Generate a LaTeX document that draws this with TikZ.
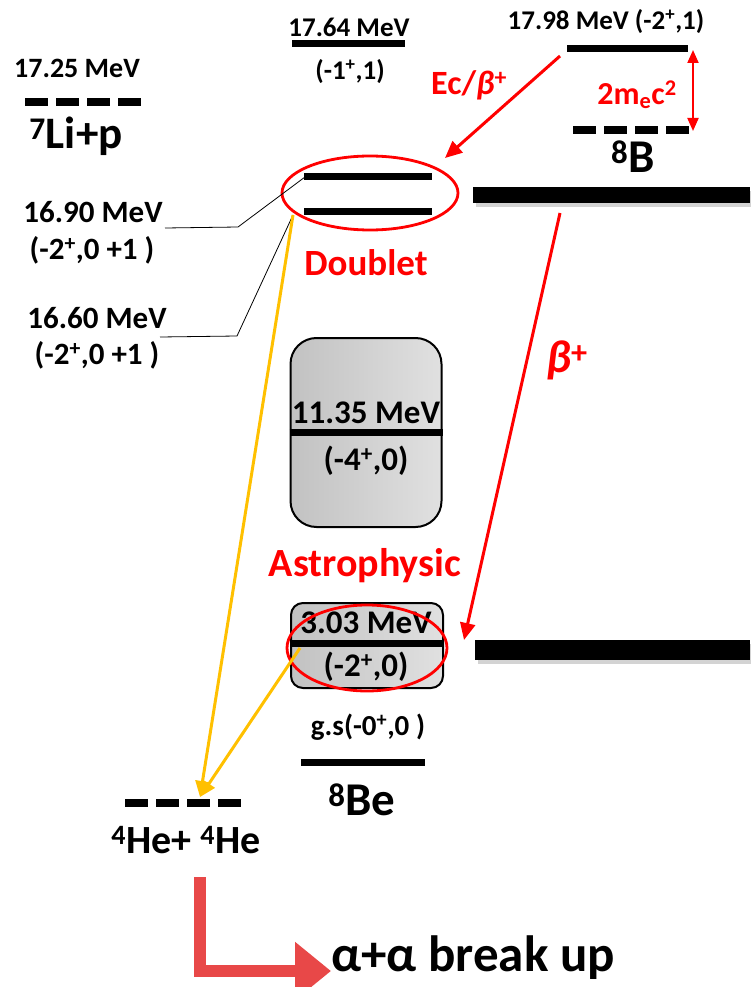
\documentclass[tikz,border=0pt]{standalone}
\usepackage{fontspec}
\setmainfont{Carlito}
\usetikzlibrary{shapes.geometric,shadows,arrows.meta,positioning}

\newcommand{\taille}[1]{\fontsize{#1}{#1}\selectfont}
\newcommand{\betap}{{\itshape β}\textsuperscript{\upshape +}}

\begin{document}
\begin{tikzpicture}[
    x=1pt, y=-1pt,
    every node/.style={font=\bfseries, inner sep=0pt},
    % Niveaux et seuils
    niveau/.style={line width=7pt},
    seuil/.style={line width=8pt, dash pattern=on 23pt off 8pt},
    repere/.style={line width=0.8pt},
    % Fleches
    rouge/.style={red, line width=3pt, -{Triangle[length=17pt,width=15pt]}},
    jaune/.style={color={rgb,255:red,255;green,192;blue,0}, line width=3pt,
                  -{Triangle[length=16pt,width=14pt]}},
    boite/.style={draw, line width=2pt, shading angle=45,
                  left color=black!24, right color=black!12},
    barre/.style={fill=black, minimum height=16pt, minimum width=277pt,
                  drop shadow={shadow xshift=3pt, shadow yshift=-4pt, opacity=.35}},
    ovale/.style={draw=red, ellipse, line width=2.8pt}
]
\useasboundingbox (0,0) rectangle (750,987);

% 7Li+p
\node[font=\bfseries\taille{28}] (t1725) at (77,68) {17.25 MeV};
\coordinate (li1) at (25,102); \coordinate (li2) at (142,102);
\draw[seuil] (li1) -- (li2);
\node[font=\bfseries\taille{45}] (lip) at (76,136) {\textsuperscript{7}Li+p};

% 17.64
\node[font=\bfseries\taille{27}] (t1764) at (349,27) {17.64 MeV};
\coordinate (n1764a) at (292,44); \coordinate (n1764b) at (405,44);
\draw[niveau] (n1764a) -- (n1764b);
\node[font=\bfseries\taille{27}] (s1764) at (350,72) {(-1\textsuperscript{+},1)};

% 8B
\node[font=\bfseries\taille{27}] (t1798) at (606,22) {17.98 MeV (-2\textsuperscript{+},1)};
\coordinate (n1798a) at (567,49); \coordinate (n1798b) at (688,49);
\draw[niveau] (n1798a) -- (n1798b);
\coordinate (b1) at (573,130); \coordinate (b2) at (690,130);
\draw[seuil] (b1) -- (b2);
\coordinate (mh) at (693,50); \coordinate (mb) at (693,131);
\draw[red, line width=2pt, {Triangle[length=13pt,width=11pt]}-{Triangle[length=13pt,width=11pt]}] (mh) -- (mb);
\node[red, font=\bfseries\taille{32}] (mec) at (637,95) {2m\textsubscript{e}c\textsuperscript{2}};
\node[font=\bfseries\taille{47}] (bore) at (633,157) {\textsuperscript{8}B};
\node[barre] (barreB) at (611.5,195) {};

% Ec/beta+
\node[red, font=\bfseries\taille{34}] (ec) at (469,85) {Ec/\betap};
\coordinate (ecA) at (560,56); \coordinate (ecB) at (445,158);
\draw[rouge] (ecA) -- (ecB);

% Doublet
\coordinate (d1a) at (304,177); \coordinate (d1b) at (432,177);
\coordinate (d2a) at (304,211); \coordinate (d2b) at (432,211);
\draw[niveau] (d1a) -- (d1b);
\draw[niveau] (d2a) -- (d2b);
\node[ovale, minimum width=176pt, minimum height=74pt] (ovD) at (370,193) {};
\node[red, font=\bfseries\taille{37}] (doublet) at (366,263) {Doublet};

\node[font=\bfseries\taille{31}] (t1690) at (93,212) {16.90 MeV};
\node[font=\bfseries\taille{31}] (s1690) at (92,250) {(-2\textsuperscript{+},0 +1 )};
\node[font=\bfseries\taille{31}] (t1660) at (97,318) {16.60 MeV};
\node[font=\bfseries\taille{31}] (s1660) at (97,355) {(-2\textsuperscript{+},0 +1 )};
\coordinate (r1a) at (165,228); \coordinate (r1b) at (238,227); \coordinate (r1c) at (305,177);
\coordinate (r2a) at (160,337); \coordinate (r2b) at (237,336); \coordinate (r2c) at (293,215);
\draw[repere] (r1a) -- (r1b) -- (r1c);
\draw[repere] (r2a) -- (r2b) -- (r2c);

% beta+
\coordinate (btA) at (560,213); \coordinate (btB) at (464,640);
\draw[rouge] (btA) -- (btB);
\node[red, font=\bfseries\taille{46}] (bt) at (567,360) {\betap};

% 8Be
\node[boite, rounded corners=26pt, minimum width=151pt, minimum height=189pt] (bxA) at (366,432.5) {};
\draw[niveau] (bxA.west) -- (bxA.east);
\node[font=\bfseries\taille{33}] (t1135) at (366,413) {11.35 MeV};
\node[font=\bfseries\taille{33}] (s1135) at (366,461) {(-4\textsuperscript{+},0)};

\node[red, font=\bfseries\taille{40}] (astro) at (365,566) {Astrophysic};

\node[boite, rounded corners=12pt, minimum width=152pt, minimum height=85pt] (bxB) at (367,645.5) {};
\coordinate (n303a) at (291,643); \coordinate (n303b) at (443,643);
\draw[niveau] (n303a) -- (n303b);
\node[font=\bfseries\taille{33}] (t303) at (366,623) {3.03 MeV};
\node[font=\bfseries\taille{33}] (s303) at (366,667) {(-2\textsuperscript{+},0)};
\node[ovale, minimum width=160pt, minimum height=86pt] (ovA) at (367,648) {};
\node[barre, minimum height=20pt, minimum width=275pt] (barreBe) at (612.5,650) {};

\node[font=\bfseries\taille{29}] (gs) at (368,727) {g.s(-0\textsuperscript{+},0 )};
\coordinate (gsa) at (301,762); \coordinate (gsb) at (425,762);
\draw[niveau] (gsa) -- (gsb);
\node[font=\bfseries\taille{47}] (beryl) at (362,800) {\textsuperscript{8}Be};

% 4He+4He
\coordinate (he1) at (125,803); \coordinate (he2) at (243,803);
\draw[seuil] (he1) -- (he2);
\node[font=\bfseries\taille{40}] (hehe) at (186,840) {\textsuperscript{4}He+ \textsuperscript{4}He};
\coordinate (yA) at (293,215); \coordinate (yB) at (300,648); \coordinate (yC) at (200,797);
\draw[jaune] (yA) -- (yC);
\draw[jaune] (yB) -- (yC);

% alpha+alpha
\coordinate (brA) at (200,877); \coordinate (brB) at (331,971);
\draw[color={rgb,255:red,232;green,72;blue,72}, line width=12pt, line join=miter,
      -{Triangle[length=36pt,width=56pt]}] (brA) |- (brB);
\node[font=\bfseries\taille{51}, anchor=west] (casse) at (331,958) {α+α break up};
\end{tikzpicture}
\end{document}
